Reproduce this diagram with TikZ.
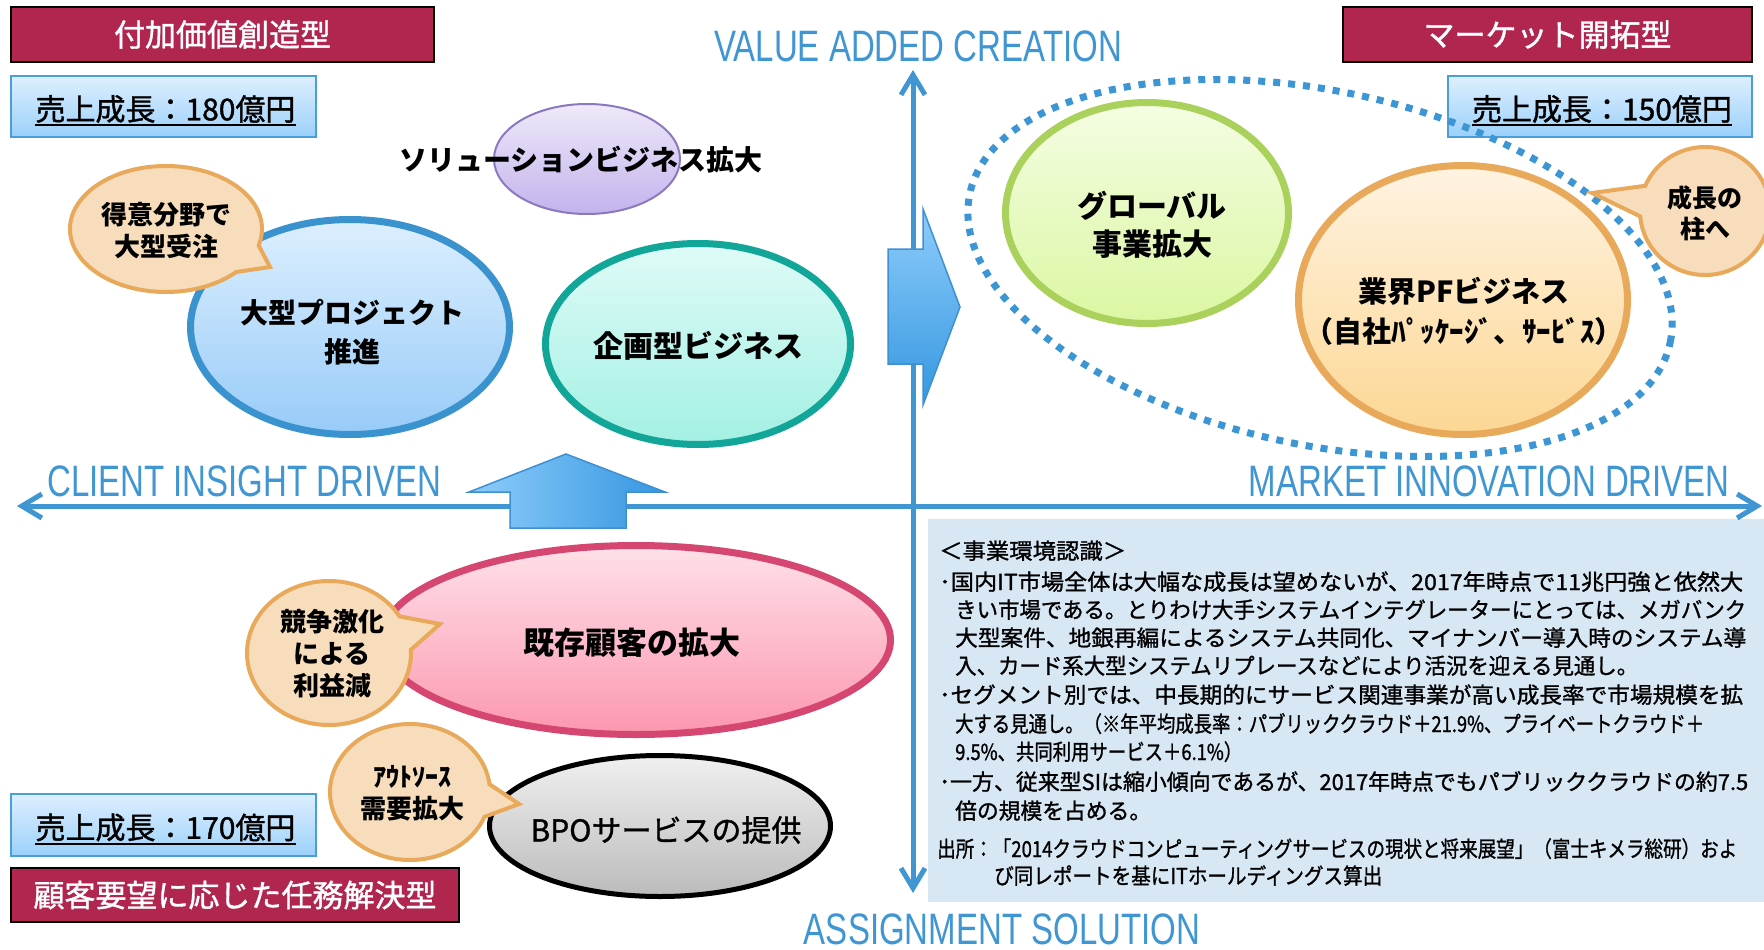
\documentclass[tikz,border=0pt]{standalone}
\usepackage{fontspec}
\usetikzlibrary{shapes.geometric,shapes.callouts,arrows.meta}
\newfontfamily\jp{Noto Sans CJK JP}
\newfontfamily\jpm[FakeBold=1.2]{Noto Sans CJK JP}
\newfontfamily\ax[FakeStretch=0.75]{Liberation Sans}
\definecolor{hdrred}{HTML}{B0264F}
\definecolor{salesline}{HTML}{4A9EDA}
\definecolor{salestop}{HTML}{DDEFFF}
\definecolor{salesbot}{HTML}{9CD1FA}
\definecolor{axisblue}{HTML}{3F96D3}
\definecolor{projline}{HTML}{3A92CF}
\definecolor{projtop}{HTML}{DDEFFE}
\definecolor{projbot}{HTML}{97CBF8}
\definecolor{tealline}{HTML}{12A699}
\definecolor{tealtop}{HTML}{DFFBF7}
\definecolor{tealbot}{HTML}{A3F0E3}
\definecolor{purline}{HTML}{8B79C0}
\definecolor{purtop}{HTML}{EFE9F9}
\definecolor{purbot}{HTML}{C3B3ED}
\definecolor{greenline}{HTML}{A9D15B}
\definecolor{greentop}{HTML}{F4FDE3}
\definecolor{greenbot}{HTML}{DBF7A2}
\definecolor{orgline}{HTML}{E8A95B}
\definecolor{orgtop}{HTML}{FFF3E2}
\definecolor{orgbot}{HTML}{FCD793}
\definecolor{pinkline}{HTML}{D54670}
\definecolor{pinktop}{HTML}{FEE1E8}
\definecolor{pinkbot}{HTML}{FC97B0}
\definecolor{graytop}{HTML}{F0F0F0}
\definecolor{graybot}{HTML}{BBBBBB}
\definecolor{bubfill}{HTML}{F7DDBB}
\definecolor{bubline}{HTML}{E8A95B}
\definecolor{bodyfill}{HTML}{D8E7F4}
\definecolor{arrlight}{HTML}{8ECCFB}
\definecolor{arrdark}{HTML}{3497E0}
\definecolor{arrline}{HTML}{3E90D0}
\definecolor{dotblue}{HTML}{3C95D4}
\begin{document}
\begin{tikzpicture}[x=1pt,y=-1pt,
  hdrbox/.style={draw=black, line width=1.5pt, fill=hdrred, text=white, inner sep=0,
     font=\jpm\fontsize{31}{36}\selectfont},
  salesbox/.style={draw=salesline, line width=1.5pt, top color=salestop, bottom color=salesbot, inner sep=0},
  salestext/.style={inner sep=0, font=\jpm\fontsize{30}{36}\selectfont},
  uline/.style={line width=2pt, black},
  bodybox/.style={fill=bodyfill, inner sep=0},
  bodytxt/.style={inner sep=0, font=\jpm\fontsize{22}{26}\selectfont},
  axisline/.style={draw=axisblue, line width=5pt, line cap=round, >={Straight Barb[length=20pt,width=24pt]}, <->},
  axislabel/.style={text=axisblue, inner sep=0, font=\ax\fontsize{44}{50}\selectfont},
  oval/.style={ellipse, inner sep=0},
  bubble/.style={ellipse callout, draw=bubline, fill=bubfill, line width=4pt, inner sep=0, callout pointer arc=28},
  blockarrow/.style={draw=arrline, line width=1.5pt, line join=miter},
  lbl/.style={inner sep=0, align=center, font=\jp\bfseries\fontsize{28}{39}\selectfont},
  dotring/.style={ellipse, draw=dotblue, line width=7pt, dash pattern=on 7pt off 8pt, inner sep=0}
]
\path[use as bounding box, fill=white] (0,0) rectangle (1764,950);

% header boxes
\node[hdrbox, minimum width=423pt, minimum height=55pt] (h1) at (222.5,34.5) {付加価値創造型};
\node[hdrbox, minimum width=409pt, minimum height=55pt] (h2) at (1547.5,34.5) {マーケット開拓型};
\node[hdrbox, minimum width=448pt, minimum height=54pt] (h3) at (235,895) {顧客要望に応じた任務解決型};

% sales boxes
\node[salesbox, minimum width=305pt, minimum height=61pt] (s1) at (163.5,106.5) {};
\node[salestext] (s1t) at (165.5,109) {売上成長：180億円};
\draw[uline] ([yshift=-2pt]s1t.south west) -- ([yshift=-2pt]s1t.south east);
\node[salesbox, minimum width=304pt, minimum height=61pt] (s2) at (1600,106.5) {};
\node[salestext] (s2t) at (1602,109) {売上成長：150億円};
\draw[uline] ([yshift=-2pt]s2t.south west) -- ([yshift=-2pt]s2t.south east);
\node[salesbox, minimum width=305pt, minimum height=62pt] (s3) at (163.5,825) {};
\node[salestext] (s3t) at (165.5,827.5) {売上成長：170億円};
\draw[uline] ([yshift=-2pt]s3t.south west) -- ([yshift=-2pt]s3t.south east);

% body text box
\node[bodybox, anchor=north west, minimum width=836pt, minimum height=383pt] (env) at (928,519) {};
\node[bodytxt, anchor=base west] (l1) at (939,559) {\resizebox{187pt}{\height}{＜事業環境認識＞}};
\node[bodytxt, anchor=base west] (l2) at (939,590) {\resizebox{804pt}{\height}{･国内IT市場全体は大幅な成長は望めないが、2017年時点で11兆円強と依然大}};
\node[bodytxt, anchor=base west] (l3) at (955,618) {\resizebox{791pt}{\height}{きい市場である。とりわけ大手システムインテグレーターにとっては、メガバンク}};
\node[bodytxt, anchor=base west] (l4) at (955,646) {\resizebox{791pt}{\height}{大型案件、地銀再編によるシステム共同化、マイナンバー導入時のシステム導}};
\node[bodytxt, anchor=base west] (l5) at (955,674) {\resizebox{683pt}{\height}{入、カード系大型システムリプレースなどにより活況を迎える見通し。}};
\node[bodytxt, anchor=base west] (l6) at (939,703) {\resizebox{804pt}{\height}{･セグメント別では、中長期的にサービス関連事業が高い成長率で市場規模を拡}};
\node[bodytxt, anchor=base west] (l7) at (955,732) {\resizebox{749pt}{\height}{大する見通し。（※年平均成長率：パブリッククラウド＋21.9\%、プライベートクラウド＋}};
\node[bodytxt, anchor=base west] (l8) at (955,760) {\resizebox{287pt}{\height}{9.5\%、共同利用サービス＋6.1\%）}};
\node[bodytxt, anchor=base west] (l9) at (939,790) {\resizebox{809pt}{\height}{･一方、従来型SIは縮小傾向であるが、2017年時点でもパブリッククラウドの約7.5}};
\node[bodytxt, anchor=base west] (l10) at (955,819) {\resizebox{196pt}{\height}{倍の規模を占める。}};
\node[bodytxt, anchor=base west] (l11) at (937,857) {\resizebox{800pt}{\height}{出所：「2014クラウドコンピューティングサービスの現状と将来展望」（富士キメラ総研）およ}};
\node[bodytxt, anchor=base west] (l12) at (994,884) {\resizebox{388pt}{\height}{び同レポートを基にITホールディングス算出}};

% axes
\coordinate (vtop) at (913,70);
\coordinate (vbot) at (913,893);
\coordinate (hleft) at (17,506);
\coordinate (hright) at (1762,506);
\draw[axisline] (vbot) -- (vtop);
\draw[axisline] (hleft) -- (hright);
\node[axislabel, anchor=base] (ax1) at (918,62) {VALUE ADDED CREATION};
\node[axislabel, anchor=base west] (ax2) at (47,496) {CLIENT INSIGHT DRIVEN};
\node[axislabel, anchor=base east] (ax3) at (1730,496) {MARKET INNOVATION DRIVEN};
\node[axislabel, anchor=base] (ax4) at (1002,944) {ASSIGNMENT SOLUTION};

% ellipses
\node[oval, draw=purline, line width=2pt, top color=purtop, bottom color=purbot, minimum width=186pt, minimum height=110pt] (sol) at (587,159) {};
\node[oval, draw=projline, line width=7pt, top color=projtop, bottom color=projbot, minimum width=319pt, minimum height=215pt] (proj) at (350,327) {};
\node[oval, draw=tealline, line width=7pt, top color=tealtop, bottom color=tealbot, minimum width=305pt, minimum height=201pt] (plan) at (698,344) {};
\node[oval, draw=greenline, line width=7pt, top color=greentop, bottom color=greenbot, minimum width=283pt, minimum height=221pt] (glob) at (1147,213) {};
\node[oval, draw=orgline, line width=7pt, top color=orgtop, bottom color=orgbot, minimum width=329pt, minimum height=269pt] (pf) at (1463,300) {};
\node[oval, draw=pinkline, line width=7pt, top color=pinktop, bottom color=pinkbot, minimum width=509pt, minimum height=189pt] (exist) at (636,640) {};
\node[oval, draw=black, line width=5pt, top color=graytop, bottom color=graybot, minimum width=341pt, minimum height=141pt] (bpo) at (660,826) {};

% block arrows
\path[blockarrow, left color=arrlight, right color=arrdark]
  (566,454) -- (665,492) -- (626,492) -- (626,528) -- (510,528) -- (510,492) -- (469,492) -- cycle;
\path[blockarrow, top color=arrlight, bottom color=arrdark]
  (888,249) -- (923,249) -- (923,209) -- (960,307) -- (923,405) -- (923,364) -- (888,364) -- cycle;

% dotted group
\node[dotring, minimum width=716pt, minimum height=354pt, rotate=-12] (grp) at (1320,268) {};

% bubbles
\node[bubble, minimum width=192pt, minimum height=126pt, callout absolute pointer={(270,267)}] (b1) at (166,229) {};
\node[bubble, minimum width=130pt, minimum height=128pt, callout absolute pointer={(1592,193)}] (b2) at (1705,211) {};
\node[bubble, minimum width=164pt, minimum height=144pt, callout absolute pointer={(440,624)}] (b3) at (329,653) {};
\node[bubble, minimum width=160pt, minimum height=136pt, callout absolute pointer={(519,804)}] (b4) at (410,792) {};

% labels
\node[lbl] (solt) at (581,160) {ソリューションビジネス拡大};
\node[lbl] (projt) at (352,332) {大型プロジェクト\\推進};
\node[lbl, font=\jp\bfseries\fontsize{30}{39}\selectfont] (plant) at (698,346) {企画型ビジネス};
\node[lbl, font=\jp\bfseries\fontsize{30}{38}\selectfont] (globt) at (1152,225) {グローバル\\事業拡大};
\node[lbl, font=\jp\bfseries\fontsize{29}{40}\selectfont] (pft) at (1464,311) {業界PFビジネス\\（自社ﾊﾟｯｹｰｼﾞ、ｻｰﾋﾞｽ）};
\node[lbl, font=\jp\bfseries\fontsize{31}{39}\selectfont] (existt) at (632,643) {既存顧客の拡大};
\node[lbl, font=\jpm\fontsize{30}{39}\selectfont] (bpot) at (666,830) {BPOサービスの提供};
\node[lbl, font=\jp\bfseries\fontsize{26}{32}\selectfont] (b1t) at (166,231) {得意分野で\\大型受注};
\node[lbl, font=\jp\bfseries\fontsize{25}{31}\selectfont] (b2t) at (1705,213) {成長の\\柱へ};
\node[lbl, font=\jp\bfseries\fontsize{26}{32}\selectfont] (b3t) at (332,654) {競争激化\\による\\利益減};
\node[lbl, font=\jp\bfseries\fontsize{26}{32}\selectfont] (b4t) at (412,793) {ｱｳﾄｿｰｽ\\需要拡大};
\end{tikzpicture}
\end{document}
